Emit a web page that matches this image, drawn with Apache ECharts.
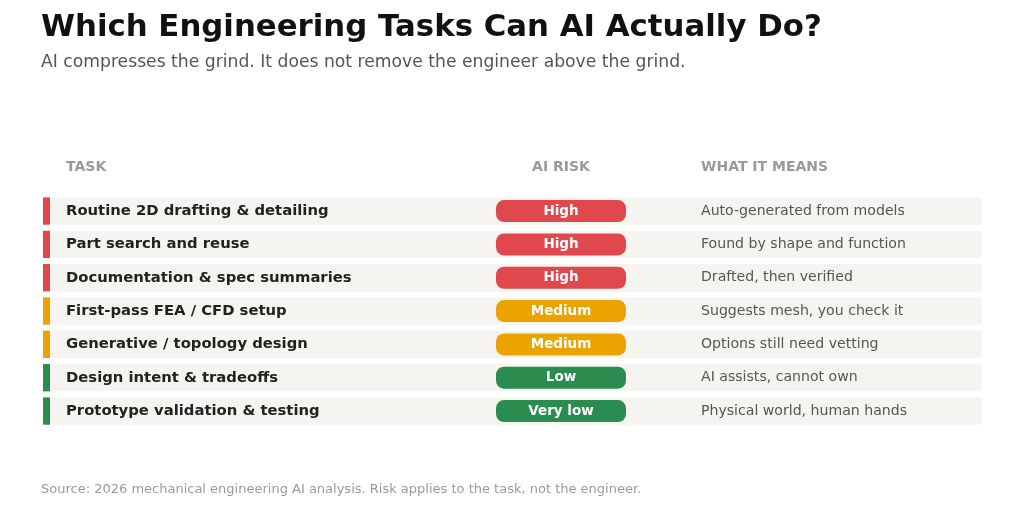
<!DOCTYPE html>
<html>
<head>
<meta charset="utf-8">
<script src="https://cdn.jsdelivr.net/npm/echarts@6/dist/echarts.min.js"></script>
<style>
html,body{margin:0;padding:0;background:#fff;}
#main{width:1024px;height:512px;}
</style>
</head>
<body>
<div id="main"></div>
<script>
const tasks = [
  'Routine 2D drafting & detailing',
  'Part search and reuse',
  'Documentation & spec summaries',
  'First-pass FEA / CFD setup',
  'Generative / topology design',
  'Design intent & tradeoffs',
  'Prototype validation & testing'
];
const risks = ['High', 'High', 'High', 'Medium', 'Medium', 'Low', 'Very low'];
const meanings = [
  'Auto-generated from models',
  'Found by shape and function',
  'Drafted, then verified',
  'Suggests mesh, you check it',
  'Options still need vetting',
  'AI assists, cannot own',
  'Physical world, human hands'
];
const headers = ['TASK', 'AI RISK', 'WHAT IT MEANS'];
const riskColors = { 'High': '#e0484d', 'Medium': '#eba300', 'Low': '#2b8c4f', 'Very low': '#2b8c4f' };

const FONT = '"DejaVu Sans", Verdana, sans-serif';
const chart = echarts.init(document.getElementById('main'), null, { renderer: 'canvas' });

const rowData = tasks.map((t, i) => [i]);

function renderItem(params, api) {
  const i = api.value(0);
  const cy = api.coord([0, i])[1];
  const band = api.size([0, 1])[1];
  const h = band * 0.82;
  const X = v => api.coord([v, i])[0];
  const col = riskColors[risks[i]];
  return {
    type: 'group',
    children: [
      { type: 'rect', shape: { x: X(50), y: cy - h / 2, width: X(982) - X(50), height: h, r: 3 }, style: { fill: '#f5f4f1' } },
      { type: 'rect', shape: { x: X(43), y: cy - h / 2, width: X(50) - X(43), height: h }, style: { fill: col } },
      { type: 'rect', shape: { x: X(496), y: cy - 11, width: X(626) - X(496), height: 22, r: 8 }, style: { fill: col } },
      { type: 'text', style: { text: tasks[i], x: X(66), y: cy, fill: '#222', font: 'bold 14.8px ' + FONT, textAlign: 'left', textVerticalAlign: 'middle', align: 'left', verticalAlign: 'middle' } },
      { type: 'text', style: { text: risks[i], x: X(561), y: cy, fill: '#fff', font: 'bold 13.5px ' + FONT, textAlign: 'center', textVerticalAlign: 'middle', align: 'center', verticalAlign: 'middle' } },
      { type: 'text', style: { text: meanings[i], x: X(701), y: cy, fill: '#555', font: '14.1px ' + FONT, textAlign: 'left', textVerticalAlign: 'middle', align: 'left', verticalAlign: 'middle' } }
    ]
  };
}

function txt(text, x, y, font, fill, align) {
  return { type: 'text', style: { text: text, x: x, y: y, font: font, fill: fill, textAlign: align || 'left', textVerticalAlign: 'middle', align: align || 'left', verticalAlign: 'middle' } };
}

chart.setOption({
  backgroundColor: '#ffffff',
  animation: false,
  grid: { left: 0, right: 0, top: 194.4, bottom: 84.3 },
  xAxis: { type: 'value', min: 0, max: 1024, show: false },
  yAxis: { type: 'category', data: tasks, inverse: true, show: false },
  graphic: [
    txt('Which Engineering Tasks Can AI Actually Do?', 41, 28, 'bold 30.8px ' + FONT, '#111'),
    txt('AI compresses the grind. It does not remove the engineer above the grind.', 41, 63, '17.2px ' + FONT, '#555'),
    txt(headers[0], 66, 167, 'bold 14px ' + FONT, '#9a9a9a', 'left'),
    txt(headers[1], 561, 167, 'bold 14px ' + FONT, '#9a9a9a', 'center'),
    txt(headers[2], 701, 167, 'bold 14px ' + FONT, '#9a9a9a', 'left'),
    txt('Source: 2026 mechanical engineering AI analysis. Risk applies to the task, not the engineer.', 41, 490, '13px ' + FONT, '#9a9a9a')
  ],
  series: [{
    type: 'custom',
    renderItem: renderItem,
    data: rowData,
    encode: { x: -1, y: 0 }
  }]
});
</script>
</body>
</html>
